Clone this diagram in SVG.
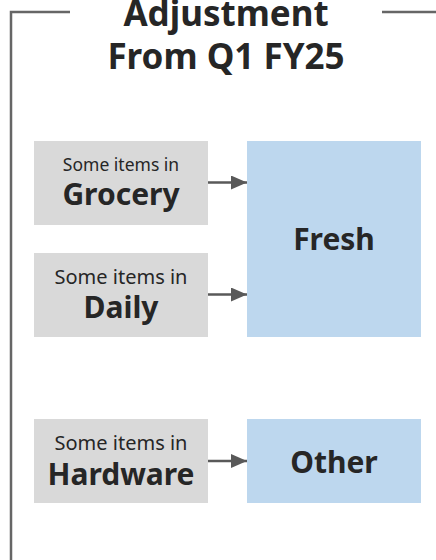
<svg xmlns="http://www.w3.org/2000/svg" width="436" height="560" viewBox="0 0 436 560">
<style>
.frame{fill:none;stroke:#666;stroke-width:2.5}
.src{fill:#d9d9d9}
.dst{fill:#bdd7ee}
.t{font-family:"Noto Sans","Open Sans",sans-serif;fill:#262626;text-anchor:middle}
.b{font-weight:bold}
.conn{stroke:#595959;stroke-width:2.5;fill:none}
</style>
<defs>
<marker id="arr" viewBox="0 0 16 14" refX="16" refY="7" markerWidth="16" markerHeight="14" markerUnits="userSpaceOnUse" orient="auto">
<path d="M0,0 L16,7 L0,14 z" fill="#595959"/>
</marker>
</defs>
<g id="frame">
<path class="frame" d="M70,12 H11 V560"/>
<path class="frame" d="M382,12 H436"/>
</g>
<g id="title">
<text class="t b" x="226" y="26" font-size="35">Adjustment</text>
<text class="t b" x="226" y="69" font-size="35">From Q1 FY25</text>
</g>
<g id="grocery">
<rect class="src" x="34" y="141" width="174" height="84"/>
<text class="t" x="121" y="171" font-size="17.5">Some items in</text>
<text class="t b" x="121" y="205" font-size="30">Grocery</text>
</g>
<g id="daily">
<rect class="src" x="34" y="253" width="174" height="84"/>
<text class="t" x="121" y="284" font-size="20">Some items in</text>
<text class="t b" x="121" y="318" font-size="30">Daily</text>
</g>
<g id="hardware">
<rect class="src" x="34" y="419" width="174" height="84"/>
<text class="t" x="121" y="450" font-size="20">Some items in</text>
<text class="t b" x="121" y="485" font-size="30">Hardware</text>
</g>
<g id="fresh">
<rect class="dst" x="247" y="141" width="174" height="196"/>
<text class="t b" x="334" y="250" font-size="30">Fresh</text>
</g>
<g id="other">
<rect class="dst" x="247" y="419" width="174" height="84"/>
<text class="t b" x="334" y="473" font-size="30">Other</text>
</g>
<g id="connectors">
<line class="conn" x1="208" y1="182.5" x2="247" y2="182.5" marker-end="url(#arr)"/>
<line class="conn" x1="208" y1="294.5" x2="247" y2="294.5" marker-end="url(#arr)"/>
<line class="conn" x1="208" y1="461" x2="247" y2="461" marker-end="url(#arr)"/>
</g>
</svg>
